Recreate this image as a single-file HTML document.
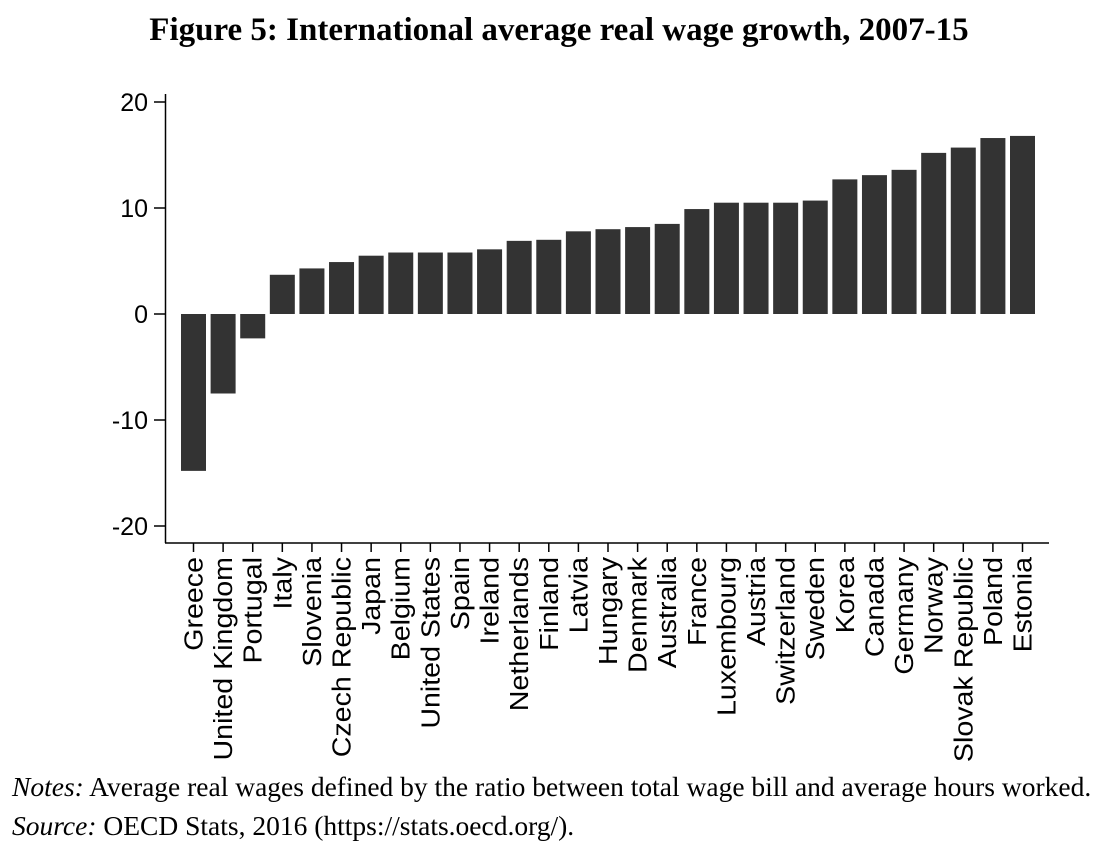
<!DOCTYPE html>
<html><head><meta charset="utf-8"><style>
body{margin:0;background:#fff;width:1108px;height:855px;overflow:hidden;font-family:"Liberation Sans",sans-serif}
#title{position:absolute;left:0;width:1118px;top:12px;text-align:center;font-family:"Liberation Serif",serif;font-weight:bold;font-size:33px}
.note{position:absolute;left:12px;font-family:"Liberation Serif",serif;font-size:27.5px;white-space:nowrap}
</style></head><body>
<div id="title">Figure 5: International average real wage growth, 2007-15</div>
<svg id="chart" width="1108" height="855" style="position:absolute;left:0;top:0"></svg>
<div class="note" style="top:771px"><i>Notes:</i> Average real wages defined by the ratio between total wage bill and average hours worked.</div>
<div class="note" style="top:810px"><i>Source:</i> OECD Stats, 2016 (https://stats.oecd.org/).</div>
<script>
const categories=["Greece","United Kingdom","Portugal","Italy","Slovenia","Czech Republic","Japan","Belgium","United States","Spain","Ireland","Netherlands","Finland","Latvia","Hungary","Denmark","Australia","France","Luxembourg","Austria","Switzerland","Sweden","Korea","Canada","Germany","Norway","Slovak Republic","Poland","Estonia"];
const values=[-14.8,-7.5,-2.3,3.7,4.3,4.9,5.5,5.8,5.8,5.8,6.1,6.9,7.0,7.8,8.0,8.2,8.5,9.9,10.5,10.5,10.5,10.7,12.7,13.1,13.6,15.2,15.7,16.6,16.8];
const yTicks=[20,10,0,-10,-20];
const ns="http://www.w3.org/2000/svg";
const svg=document.getElementById('chart');
const y=v=>314-v*10.6;
const x0=181,step=(1010-181)/(categories.length-1),bw=25;
const x=i=>x0+i*step;
function mk(t,a,p){const e=document.createElementNS(ns,t);for(const k in a)e.setAttribute(k,a[k]);(p||svg).appendChild(e);return e;}
const ax=mk('line',{x1:165.5,y1:94,x2:165.5,y2:543,stroke:'#000','stroke-width':1.5});


const bx=mk('line',{x1:165,y1:543,x2:1049,y2:543,stroke:'#000','stroke-width':1.5});


yTicks.forEach(t=>{
 const l=mk('line',{x1:154,y1:y(t),x2:165,y2:y(t),stroke:'#000','stroke-width':1.5});
 
 
 const tx=mk('text',{x:148,y:y(t)+9,'text-anchor':'end','font-size':25,'font-family':'Liberation Sans, sans-serif'});
 tx.textContent=t;
 
 
});
categories.forEach((c,i)=>{
 const v=values[i];
 const r=mk('rect',{x:x(i),y:Math.min(y(v),y(0)),width:bw,height:Math.abs(y(v)-y(0)),fill:'#333333'});
 
 
 const tk=mk('line',{x1:x(i)+bw/2,y1:543,x2:x(i)+bw/2,y2:552,stroke:'#000','stroke-width':1.5});
 
 
 const cx=x(i)+bw/2+9;
 const tx=mk('text',{x:cx,y:557,'text-anchor':'end','font-size':26,'font-family':'Liberation Sans, sans-serif',transform:`rotate(-90 ${cx} 557) translate(${cx} 557) scale(1.1 1) translate(${-cx} -557)`});
 tx.textContent=c;
 
 
});
</script>
</body></html>
